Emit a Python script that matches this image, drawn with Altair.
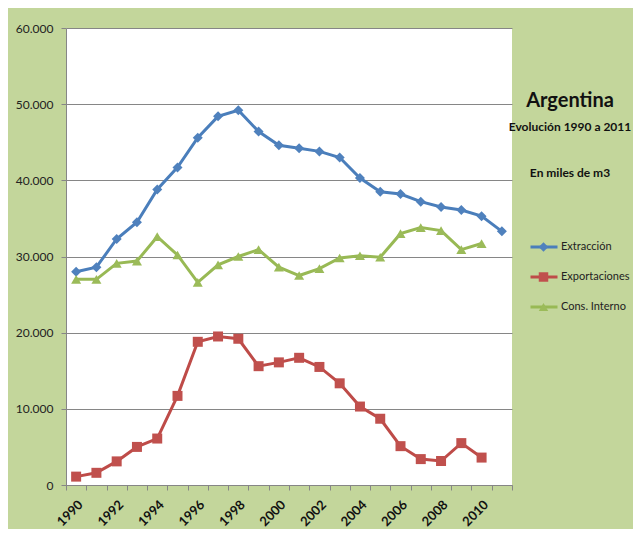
import altair as alt
import pandas as pd

years = list(range(1990, 2012))
extraccion = [28.0, 28.6, 32.3, 34.5, 38.8, 41.7, 45.6, 48.4, 49.2, 46.4, 44.6,
              44.2, 43.8, 43.0, 40.3, 38.5, 38.2, 37.2, 36.5, 36.1, 35.3, 33.3]
exportaciones = [1.1, 1.6, 3.1, 5.0, 6.1, 11.7, 18.8, 19.5, 19.2, 15.6, 16.1,
                 16.7, 15.5, 13.35, 10.3, 8.7, 5.1, 3.4, 3.15, 5.5, 3.6]
cons_interno = [27.0, 27.0, 29.1, 29.4, 32.6, 30.2, 26.6, 28.9, 30.0, 30.9, 28.6,
                27.5, 28.4, 29.8, 30.1, 29.9, 33.0, 33.8, 33.4, 30.9, 31.7]

series = ["Extracción", "Exportaciones", "Cons. Interno"]
colors_line = ["#4A7EBB", "#BE4B48", "#98B954"]
colors_mark = ["#4F81BD", "#C0504D", "#9BBB59"]
shapes = ["diamond", "square", "triangle-up"]

rows = []
for name, vals in zip(series, [extraccion, exportaciones, cons_interno]):
    for y, v in zip(years, vals):
        rows.append({"year": y, "serie": name, "serie_m": name, "value": v * 1000})
df = pd.DataFrame(rows)

FONT = "Lato"

x = alt.X("year:O", title=None, sort=years,
          scale=alt.Scale(domain=years, paddingInner=0, paddingOuter=0),
          axis=alt.Axis(tickBand="extent", labelAngle=-45, labelFontWeight="bold",
                        labelFontSize=13, labelFont=FONT, labelColor="#111",
                        labelExpr="datum.value % 2 == 0 ? datum.value : ''",
                        domainColor="#868686", tickColor="#868686", tickSize=5,
                        labelPadding=8, grid=False))
y = alt.Y("value:Q", title=None,
          scale=alt.Scale(domain=[0, 60000], nice=False),
          axis=alt.Axis(values=[0, 10000, 20000, 30000, 40000, 50000, 60000],
                        labelExpr="replace(format(datum.value, ','), ',', '.')",
                        labelFont=FONT, labelFontSize=12, labelColor="#222",
                        gridColor="#868686", gridWidth=1, domainColor="#868686",
                        tickColor="#868686", tickSize=5, labelPadding=8))

lines = alt.Chart(df).mark_line(strokeWidth=3).encode(
    x=x, y=y,
    color=alt.Color("serie:N", sort=series,
                    scale=alt.Scale(domain=series, range=colors_line),
                    legend=alt.Legend(orient="none", legendX=463, legendY=204,
                                      title=None, symbolType="stroke", symbolSize=729,
                                      symbolStrokeWidth=3, labelFont=FONT,
                                      labelFontSize=11, labelColor="#222",
                                      clipHeight=30, rowPadding=0, padding=0,
                                      labelOffset=2)),
    detail="serie:N",
)

points = alt.Chart(df).mark_point(filled=True, opacity=1).encode(
    x=x, y=y,
    fill=alt.Fill("serie_m:N", sort=series,
                  scale=alt.Scale(domain=series, range=colors_mark),
                  legend=alt.Legend(orient="none", legendX=472, legendY=204,
                                    title=None, symbolSize=90, labelFont=FONT,
                                    labelFontSize=11, labelExpr="''",
                                    clipHeight=30, rowPadding=0, padding=0,
                                    symbolStrokeWidth=0)),
    shape=alt.Shape("serie_m:N", sort=series,
                    scale=alt.Scale(domain=series, range=shapes)),
    size=alt.value(100),
)

chart = alt.layer(lines, points).properties(
    width=446, height=457,
    background="#C3D69B",
    padding={"left": 58, "top": 20, "right": 121, "bottom": 44},
    autosize=alt.AutoSizeParams(type="none"),
    title=alt.TitleParams(
        text="Argentina",
        subtitle=["Evolución 1990 a 2011", "En miles de m3"],
        anchor="start", frame="group", orient="top", align="center",
        dx=504, dy=157, offset=0,
        font=FONT, fontSize=20, fontWeight="bold", color="#111",
        subtitleFont=FONT, subtitleFontSize=12, subtitleFontWeight="bold",
        subtitleColor="#111", subtitleLineHeight=46, subtitlePadding=11,
    ),
).resolve_legend(
    color="independent", fill="independent", shape="independent"
).configure_view(fill="white", stroke=None)

chart.save("out.html", embed_options={"renderer": "svg", "actions": False})
